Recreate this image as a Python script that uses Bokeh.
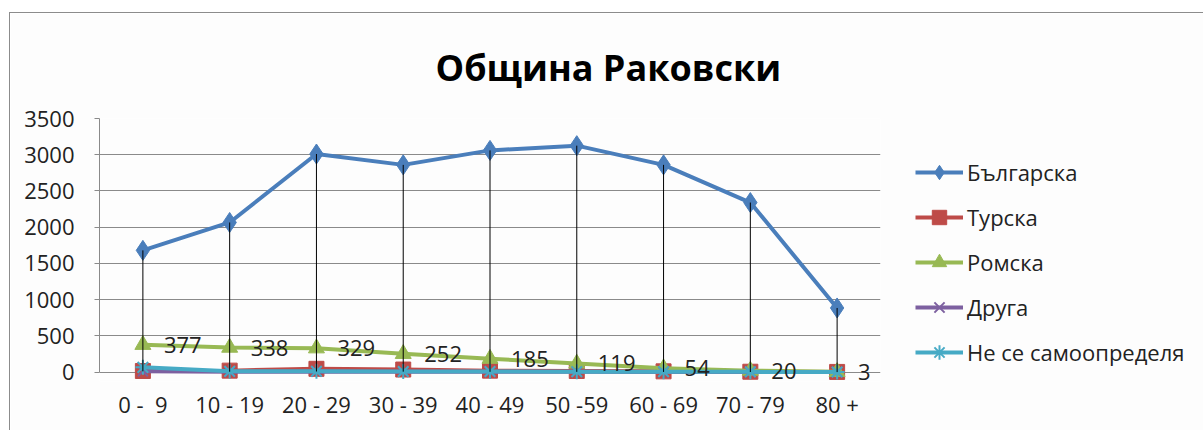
from bokeh.plotting import figure
from bokeh.models import (FactorRange, Range1d, FixedTicker, Legend, LegendItem,
                          Title, ColumnDataSource)
from bokeh.core.properties import value
from bokeh.embed import file_html
from bokeh.resources import INLINE

title_text = "Община Раковски"
categories = ["0 -\u00a0 9", "10 - 19", "20 - 29", "30 - 39", "40 - 49", "50 -59", "60 - 69", "70 - 79", "80 +"]
bulgarian = [1680, 2065, 3010, 2860, 3060, 3125, 2860, 2340, 885]
turkish = [15, 20, 45, 35, 20, 15, 10, 5, 2]
roma = [377, 338, 329, 252, 185, 119, 54, 20, 3]
other = [10, 5, 8, 6, 4, 3, 2, 1, 0]
undetermined = [65, 10, 10, 8, 8, 6, 5, 3, 1]
series_names = ["Българска", "Турска", "Ромска", "Друга", "Не се самоопределя"]
y_ticks = [0, 500, 1000, 1500, 2000, 2500, 3000, 3500]

FONT = "Open Sans"

# a little room below 0 so that markers and labels at 0 are not cut off
p = figure(x_range=FactorRange(*categories, range_padding=0), y_range=Range1d(-130, 3500),
           frame_width=781, frame_height=263, output_backend="svg", toolbar_location=None,
           min_border_left=89, min_border_right=0, min_border_top=105, min_border_bottom=50)
p.styles = {"margin-left": "9px", "margin-top": "12px", "border": "1px solid #8c8c8c"}
p.outline_line_color = None
p.background_fill_color = "#fdfdfd"
p.border_fill_color = "#fdfdfd"

p.xgrid.grid_line_color = None
p.ygrid.grid_line_color = "#8a8a8a"
p.ygrid.grid_line_width = 1
p.yaxis.ticker = FixedTicker(ticks=y_ticks)
p.yaxis.bounds = (0, 3500)
p.yaxis.axis_line_color = "#8a8a8a"
p.yaxis.major_tick_line_color = "#8a8a8a"
p.yaxis.major_tick_out = 5
p.yaxis.major_tick_in = 0
p.yaxis.minor_tick_line_color = None
p.xaxis.axis_line_color = None
p.xaxis.major_tick_line_color = None
p.xaxis.minor_tick_line_color = None
for ax in (p.xaxis[0], p.yaxis[0]):
    ax.major_label_text_font = FONT
    ax.major_label_text_font_size = "22px"
    ax.major_label_text_color = "#222222"
p.yaxis.major_label_standoff = 20
p.xaxis.major_label_standoff = 1

colors = ["#4a7ebb", "#be4b48", "#98b954", "#7d60a0", "#46aac5"]
markers = ["diamond", "square", "triangle", "x", "asterisk"]
sizes = [20, 15, 16, 14, 15]
data = [bulgarian, turkish, roma, other, undetermined]
items = []
for i in range(5):
    l = p.line(categories, data[i], line_color=colors[i], line_width=4)
    s = p.scatter(categories, data[i], marker=markers[i], size=sizes[i],
                  fill_color=colors[i], line_color=colors[i],
                  line_width=2 if markers[i] in ("x", "asterisk") else 1)
    items.append(LegendItem(label=series_names[i], renderers=[l, s]))

# high-low drop lines
lows = [min(v) for v in zip(bulgarian, turkish, roma, other, undetermined)]
p.segment(x0=categories, y0=bulgarian, x1=categories, y1=lows, line_color="black", line_width=1)

# data labels for Roma
src = ColumnDataSource(dict(x=categories, y=roma, t=[str(v) for v in roma]))
p.text(x="x", y="y", text="t", source=src, x_offset=21, text_baseline="middle",
       text_font=value(FONT), text_font_size="22px", text_color="#222222")

legend = Legend(items=items, location=(35, 11), padding=0, margin=0, spacing=9,
                glyph_width=48, glyph_height=36, label_height=36, label_standoff=4,
                label_text_font=FONT, label_text_font_size="22px", label_text_color="#222222",
                border_line_color=None, background_fill_alpha=0)
p.add_layout(legend, "right")

p.add_layout(Title(text=title_text, align="left", offset=336, standoff=54,
                   text_font=FONT, text_font_size="36px", text_font_style="bold",
                   text_color="black"), "above")

open("out.html", "w").write(file_html(p, INLINE))
